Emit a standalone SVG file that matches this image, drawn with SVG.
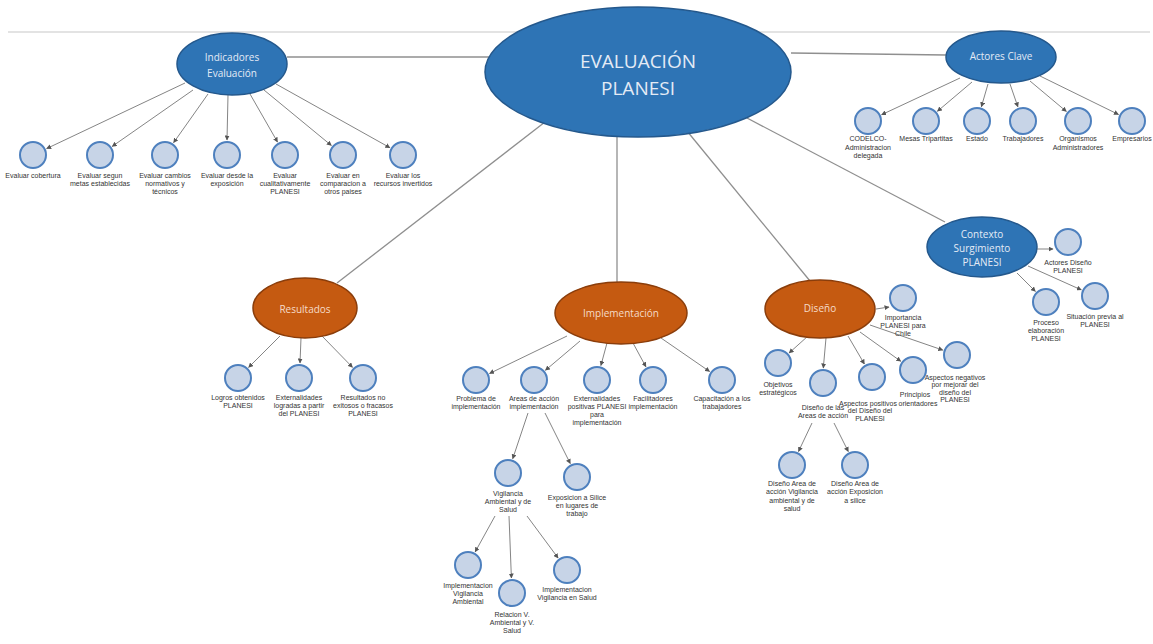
<svg xmlns="http://www.w3.org/2000/svg" width="1153" height="644" viewBox="0 0 1153 644">
  <style>
    .bg { fill: #ffffff; }
    .rule { stroke: #dadada; stroke-width: 1.5; }
    .link { stroke: #8f8f8f; stroke-width: 1.3; fill: none; }
    .arrow { stroke: #858585; stroke-width: 1; fill: none; marker-end: url(#tip); }
    .blue { fill: #2e74b5; stroke: #24588c; stroke-width: 1.5; }
    .orange { fill: #c55a11; stroke: #8a3d0b; stroke-width: 1.5; }
    .leaf { fill: #c7d4e7; stroke: #4e80be; stroke-width: 2; }
    .title { font-family: "Open Sans", "Noto Sans", sans-serif; text-anchor: middle; fill: #e4ebf5; }
    .otitle { font-family: "Open Sans", "Noto Sans", sans-serif; text-anchor: middle; fill: #f6dcc9; font-size: 10px; }
    .lbl { font-family: "Liberation Sans", Arial, sans-serif; font-size: 7px; fill: #333333; text-anchor: middle; }
  </style>
  <defs>
    <marker id="tip" viewBox="0 0 10 10" refX="9" refY="5" markerWidth="5" markerHeight="5" markerUnits="userSpaceOnUse" orient="auto">
      <path d="M0,0 L10,5 L0,10 z" fill="#555555"/>
    </marker>
  </defs>

  <rect class="bg" x="0" y="0" width="1153" height="644"/>
  <line class="rule" x1="8" y1="32" x2="1150" y2="32"/>

  <!-- connectors -->
  <g id="connectors">
    <!-- root to first level -->
    <line class="link" x1="287" y1="57" x2="489" y2="57"/>
    <line class="link" x1="791" y1="53" x2="946" y2="55"/>
    <line class="link" x1="545" y1="122" x2="337" y2="283"/>
    <line class="link" x1="617" y1="136" x2="617" y2="282"/>
    <line class="link" x1="687" y1="131" x2="810" y2="281"/>
    <line class="link" x1="747" y1="118" x2="945" y2="222"/>

    <!-- Indicadores -->
    <line class="arrow" x1="185" y1="83" x2="46.6" y2="148.6"/>
    <line class="arrow" x1="193" y1="90" x2="112.2" y2="146.4"/>
    <line class="arrow" x1="208" y1="94" x2="173.6" y2="142.7"/>
    <line class="arrow" x1="228" y1="95" x2="227" y2="140"/>
    <line class="arrow" x1="250" y1="94" x2="277.5" y2="142"/>
    <line class="arrow" x1="264" y1="90" x2="331.4" y2="145.5"/>
    <line class="arrow" x1="276" y1="84" x2="389.9" y2="147.7"/>

    <!-- Actores Clave -->
    <line class="arrow" x1="960" y1="78" x2="881.6" y2="114.7"/>
    <line class="arrow" x1="972" y1="82" x2="937.4" y2="111.3"/>
    <line class="arrow" x1="988" y1="84" x2="981.4" y2="106.7"/>
    <line class="arrow" x1="1010" y1="84" x2="1017.9" y2="106.9"/>
    <line class="arrow" x1="1030" y1="81" x2="1066.4" y2="111.5"/>
    <line class="arrow" x1="1040" y1="76" x2="1118.5" y2="114.5"/>

    <!-- Contexto -->
    <line class="arrow" x1="1037" y1="249" x2="1053" y2="249"/>
    <line class="arrow" x1="1017" y1="273" x2="1035.4" y2="291.4"/>
    <line class="arrow" x1="1028" y1="266" x2="1081.3" y2="289.9"/>

    <!-- Resultados -->
    <line class="arrow" x1="280" y1="336" x2="248.6" y2="367.4"/>
    <line class="arrow" x1="301" y1="338" x2="300" y2="363"/>
    <line class="arrow" x1="322" y1="336" x2="352.5" y2="367.3"/>

    <!-- Implementación -->
    <line class="arrow" x1="567" y1="336" x2="489.5" y2="373.5"/>
    <line class="arrow" x1="580" y1="341" x2="545.4" y2="370.3"/>
    <line class="arrow" x1="607" y1="343" x2="600.9" y2="365.5"/>
    <line class="arrow" x1="633" y1="343" x2="645.9" y2="366.8"/>
    <line class="arrow" x1="661" y1="338" x2="709.6" y2="371.5"/>
    <line class="arrow" x1="528" y1="413" x2="512.7" y2="458.8"/>
    <line class="arrow" x1="545" y1="413" x2="570.3" y2="463.6"/>
    <line class="arrow" x1="495" y1="516" x2="475.2" y2="551.9"/>
    <line class="arrow" x1="509" y1="516" x2="511.4" y2="578"/>
    <line class="arrow" x1="527" y1="516" x2="558.1" y2="558"/>

    <!-- Diseño -->
    <line class="arrow" x1="876" y1="309" x2="889" y2="307"/>
    <line class="arrow" x1="808" y1="336" x2="789.1" y2="353"/>
    <line class="arrow" x1="826" y1="338" x2="823.3" y2="368"/>
    <line class="arrow" x1="848" y1="336" x2="864.4" y2="364"/>
    <line class="arrow" x1="860" y1="332" x2="900.8" y2="361.3"/>
    <line class="arrow" x1="870" y1="325" x2="942.8" y2="350.1"/>
    <line class="arrow" x1="812" y1="423" x2="798.5" y2="451.5"/>
    <line class="arrow" x1="834" y1="423" x2="848.3" y2="451.6"/>
  </g>

  <!-- root -->
  <g id="evaluacion-planesi">
    <ellipse class="blue" cx="638" cy="72" rx="153" ry="65"/>
    <text class="title" x="638" y="68" font-size="19">EVALUACIÓN</text>
    <text class="title" x="638" y="95" font-size="19">PLANESI</text>
  </g>

  <!-- first level -->
  <g id="indicadores-evaluacion">
    <ellipse class="blue" cx="232" cy="64" rx="55" ry="31"/>
    <text class="title" x="232" y="60.5" font-size="10">Indicadores</text>
    <text class="title" x="232" y="76.5" font-size="10">Evaluación</text>
  </g>
  <g id="actores-clave">
    <ellipse class="blue" cx="1001" cy="57" rx="55" ry="26"/>
    <text class="title" x="1001" y="60" font-size="10">Actores Clave</text>
  </g>
  <g id="contexto-surgimiento">
    <ellipse class="blue" cx="982" cy="247" rx="55" ry="30"/>
    <text class="title" x="982" y="237.5" font-size="10">Contexto</text>
    <text class="title" x="982" y="251.5" font-size="10">Surgimiento</text>
    <text class="title" x="982" y="266" font-size="10">PLANESI</text>
  </g>
  <g id="resultados">
    <ellipse class="orange" cx="305" cy="308" rx="52" ry="30"/>
    <text class="otitle" x="305" y="312.5">Resultados</text>
  </g>
  <g id="implementacion">
    <ellipse class="orange" cx="621" cy="313" rx="66" ry="31"/>
    <text class="otitle" x="621" y="316.5">Implementación</text>
  </g>
  <g id="diseno">
    <ellipse class="orange" cx="820" cy="309" rx="55" ry="29"/>
    <text class="otitle" x="820" y="312">Diseño</text>
  </g>

  <!-- Indicadores leaves -->
  <g id="evaluar-cobertura">
    <circle class="leaf" cx="33" cy="155" r="13"/>
    <text class="lbl" x="33" y="178">Evaluar cobertura</text>
  </g>
  <g id="evaluar-metas">
    <circle class="leaf" cx="100" cy="155" r="13"/>
    <text class="lbl" x="100" y="178">Evaluar segun</text>
    <text class="lbl" x="100" y="186">metas establecidas</text>
  </g>
  <g id="evaluar-cambios">
    <circle class="leaf" cx="165" cy="155" r="13"/>
    <text class="lbl" x="165" y="178">Evaluar cambios</text>
    <text class="lbl" x="165" y="186">normativos y</text>
    <text class="lbl" x="165" y="194">técnicos</text>
  </g>
  <g id="evaluar-exposicion">
    <circle class="leaf" cx="227" cy="155" r="13"/>
    <text class="lbl" x="227" y="178">Evaluar desde la</text>
    <text class="lbl" x="227" y="186">exposición</text>
  </g>
  <g id="evaluar-cualitativamente">
    <circle class="leaf" cx="285" cy="155" r="13"/>
    <text class="lbl" x="285" y="178">Evaluar</text>
    <text class="lbl" x="285" y="186">cualitativamente</text>
    <text class="lbl" x="285" y="194">PLANESI</text>
  </g>
  <g id="evaluar-comparacion">
    <circle class="leaf" cx="343" cy="155" r="13"/>
    <text class="lbl" x="343" y="178">Evaluar en</text>
    <text class="lbl" x="343" y="186">comparacion a</text>
    <text class="lbl" x="343" y="194">otros paises</text>
  </g>
  <g id="evaluar-recursos">
    <circle class="leaf" cx="403" cy="155" r="13"/>
    <text class="lbl" x="403" y="178">Evaluar los</text>
    <text class="lbl" x="403" y="186">recursos invertidos</text>
  </g>

  <!-- Actores leaves -->
  <g id="codelco">
    <circle class="leaf" cx="868" cy="121" r="13"/>
    <text class="lbl" x="868" y="141">CODELCO-</text>
    <text class="lbl" x="868" y="149.5">Administracion</text>
    <text class="lbl" x="868" y="158">delegada</text>
  </g>
  <g id="mesas-tripartitas">
    <circle class="leaf" cx="926" cy="121" r="13"/>
    <text class="lbl" x="926" y="141">Mesas Tripartitas</text>
  </g>
  <g id="estado">
    <circle class="leaf" cx="977" cy="121" r="13"/>
    <text class="lbl" x="977" y="141">Estado</text>
  </g>
  <g id="trabajadores">
    <circle class="leaf" cx="1023" cy="121" r="13"/>
    <text class="lbl" x="1023" y="141">Trabajadores</text>
  </g>
  <g id="organismos">
    <circle class="leaf" cx="1078" cy="121" r="13"/>
    <text class="lbl" x="1078" y="141">Organismos</text>
    <text class="lbl" x="1078" y="149.5">Administradores</text>
  </g>
  <g id="empresarios">
    <circle class="leaf" cx="1132" cy="121" r="13"/>
    <text class="lbl" x="1132" y="141">Empresarios</text>
  </g>

  <!-- Contexto leaves -->
  <g id="actores-diseno">
    <circle class="leaf" cx="1068" cy="242" r="13"/>
    <text class="lbl" x="1068" y="264.5">Actores Diseño</text>
    <text class="lbl" x="1068" y="272.5">PLANESI</text>
  </g>
  <g id="proceso-elaboracion">
    <circle class="leaf" cx="1046" cy="302" r="13"/>
    <text class="lbl" x="1046" y="324.5">Proceso</text>
    <text class="lbl" x="1046" y="332.5">elaboración</text>
    <text class="lbl" x="1046" y="340.5">PLANESI</text>
  </g>
  <g id="situacion-previa">
    <circle class="leaf" cx="1095" cy="296" r="13"/>
    <text class="lbl" x="1095" y="318.5">Situación previa al</text>
    <text class="lbl" x="1095" y="326.5">PLANESI</text>
  </g>

  <!-- Resultados leaves -->
  <g id="logros">
    <circle class="leaf" cx="238" cy="378" r="13"/>
    <text class="lbl" x="238" y="400">Logros obtenidos</text>
    <text class="lbl" x="238" y="408">PLANESI</text>
  </g>
  <g id="externalidades-logradas">
    <circle class="leaf" cx="299" cy="378" r="13"/>
    <text class="lbl" x="299" y="400">Externalidades</text>
    <text class="lbl" x="299" y="408">logradas a partir</text>
    <text class="lbl" x="299" y="416">del PLANESI</text>
  </g>
  <g id="resultados-no-exitosos">
    <circle class="leaf" cx="363" cy="378" r="13"/>
    <text class="lbl" x="363" y="400">Resultados no</text>
    <text class="lbl" x="363" y="408">exitosos o fracasos</text>
    <text class="lbl" x="363" y="416">PLANESI</text>
  </g>

  <!-- Implementación leaves -->
  <g id="problema-implementacion">
    <circle class="leaf" cx="476" cy="380" r="13"/>
    <text class="lbl" x="476" y="400.5">Problema de</text>
    <text class="lbl" x="476" y="408.5">implementación</text>
  </g>
  <g id="areas-accion">
    <circle class="leaf" cx="534" cy="380" r="13"/>
    <text class="lbl" x="534" y="400.5">Areas de acción</text>
    <text class="lbl" x="534" y="408.5">implementación</text>
  </g>
  <g id="externalidades-positivas">
    <circle class="leaf" cx="597" cy="380" r="13"/>
    <text class="lbl" x="597" y="400.5">Externalidades</text>
    <text class="lbl" x="597" y="408.5">positivas PLANESI</text>
    <text class="lbl" x="597" y="416.5">para</text>
    <text class="lbl" x="597" y="424.5">implementación</text>
  </g>
  <g id="facilitadores">
    <circle class="leaf" cx="653" cy="380" r="13"/>
    <text class="lbl" x="653" y="400.5">Facilitadores</text>
    <text class="lbl" x="653" y="408.5">implementación</text>
  </g>
  <g id="capacitacion">
    <circle class="leaf" cx="722" cy="380" r="13"/>
    <text class="lbl" x="722" y="400.5">Capacitación a los</text>
    <text class="lbl" x="722" y="408.5">trabajadores</text>
  </g>
  <g id="vigilancia">
    <circle class="leaf" cx="508" cy="473" r="13"/>
    <text class="lbl" x="508" y="496">Vigilancia</text>
    <text class="lbl" x="508" y="504">Ambiental y de</text>
    <text class="lbl" x="508" y="512">Salud</text>
  </g>
  <g id="exposicion-silice">
    <circle class="leaf" cx="577" cy="477" r="13"/>
    <text class="lbl" x="577" y="500">Exposicion a Silice</text>
    <text class="lbl" x="577" y="508">en lugares de</text>
    <text class="lbl" x="577" y="516">trabajo</text>
  </g>
  <g id="impl-vigilancia-ambiental">
    <circle class="leaf" cx="468" cy="565" r="13"/>
    <text class="lbl" x="468" y="588">Implementacion</text>
    <text class="lbl" x="468" y="596">Vigilancia</text>
    <text class="lbl" x="468" y="604">Ambiental</text>
  </g>
  <g id="relacion-vigilancias">
    <circle class="leaf" cx="512" cy="593" r="13"/>
    <text class="lbl" x="512" y="616.5">Relacion V.</text>
    <text class="lbl" x="512" y="624.5">Ambiental y V.</text>
    <text class="lbl" x="512" y="632.5">Salud</text>
  </g>
  <g id="impl-vigilancia-salud">
    <circle class="leaf" cx="567" cy="570" r="13"/>
    <text class="lbl" x="567" y="591.5">Implementacion</text>
    <text class="lbl" x="567" y="599.5">Vigilancia en Salud</text>
  </g>

  <!-- Diseño leaves -->
  <g id="importancia">
    <circle class="leaf" cx="903" cy="298" r="13"/>
    <text class="lbl" x="903" y="319.5">Importancia</text>
    <text class="lbl" x="903" y="327.5">PLANESI para</text>
    <text class="lbl" x="903" y="335.5">Chile</text>
  </g>
  <g id="objetivos">
    <circle class="leaf" cx="778" cy="363" r="13"/>
    <text class="lbl" x="778" y="386.5">Objetivos</text>
    <text class="lbl" x="778" y="395">estratégicos</text>
  </g>
  <g id="diseno-areas">
    <circle class="leaf" cx="823" cy="383" r="13"/>
    <text class="lbl" x="823" y="409.5">Diseño de las</text>
    <text class="lbl" x="823" y="417.5">Areas de acción</text>
  </g>
  <g id="aspectos-positivos">
    <circle class="leaf" cx="872" cy="377" r="13"/>
    <text class="lbl" x="868" y="405.5">Aspectos positivos</text>
    <text class="lbl" x="870" y="413">del Diseño del</text>
    <text class="lbl" x="870" y="421">PLANESI</text>
  </g>
  <g id="principios">
    <circle class="leaf" cx="913" cy="370" r="13"/>
    <text class="lbl" x="915" y="396.5">Principios</text>
    <text class="lbl" x="918" y="405.5">orientadores</text>
  </g>
  <g id="aspectos-negativos">
    <circle class="leaf" cx="957" cy="355" r="13"/>
    <text class="lbl" x="955" y="379.5">Aspectos negativos</text>
    <text class="lbl" x="955" y="387">por mejorar del</text>
    <text class="lbl" x="955" y="394.5">diseño del</text>
    <text class="lbl" x="955" y="402">PLANESI</text>
  </g>
  <g id="diseno-area-vigilancia">
    <circle class="leaf" cx="792" cy="465" r="13"/>
    <text class="lbl" x="792" y="485.5">Diseño Area de</text>
    <text class="lbl" x="792" y="494">acción Vigilancia</text>
    <text class="lbl" x="792" y="502.5">ambiental y de</text>
    <text class="lbl" x="792" y="511">salud</text>
  </g>
  <g id="diseno-area-exposicion">
    <circle class="leaf" cx="855" cy="465" r="13"/>
    <text class="lbl" x="855" y="485.5">Diseño Area de</text>
    <text class="lbl" x="855" y="494">acción Exposicion</text>
    <text class="lbl" x="855" y="502.5">a silice</text>
  </g>
</svg>
